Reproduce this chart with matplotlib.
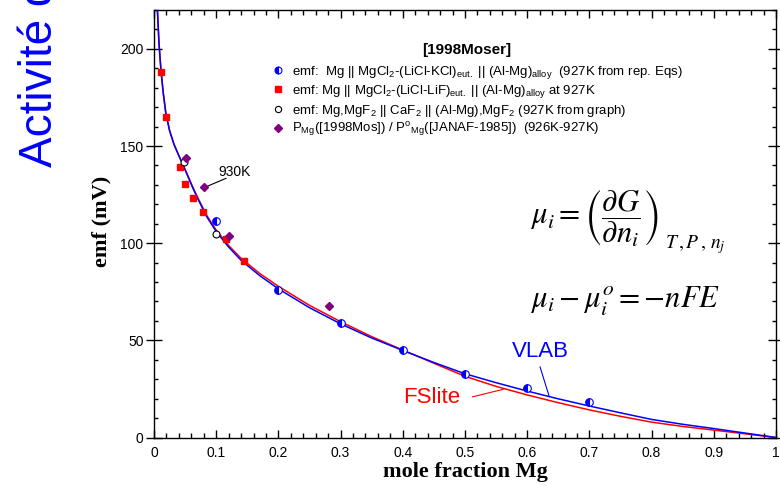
import matplotlib
matplotlib.use('Agg')
import matplotlib.pyplot as plt
import numpy as np
from matplotlib.ticker import MultipleLocator

# emf de Mg dans Al-Mg a ~927K, [1998Moser] + calculs VLAB / FSlite

rep_x = [0.1, 0.2, 0.3, 0.4, 0.5, 0.6, 0.7]
rep_emf = [111.6, 76.1, 58.8, 44.8, 32.6, 25.3, 18.2]

lif_x = [0.011, 0.019, 0.041, 0.050, 0.062, 0.078, 0.115, 0.145]
lif_emf = [188.1, 165.0, 139.1, 130.2, 123.0, 116.2, 102.1, 91.0]

caf_x = [0.048, 0.099]
caf_emf = [142.0, 104.7]

pmg_x = [0.052, 0.080, 0.120, 0.281]
pmg_emf = [143.9, 128.7, 103.9, 67.7]

calc_x = [0.0055, 0.008, 0.0113, 0.015, 0.019, 0.025, 0.032, 0.040, 0.047, 0.055,
          0.063, 0.071, 0.085, 0.10, 0.12, 0.14, 0.17, 0.20, 0.25, 0.30,
          0.35, 0.40, 0.45, 0.50, 0.55, 0.60, 0.65, 0.70, 0.75, 0.80,
          0.85, 0.90, 0.95, 1.00]
vlab_emf = [220, 203, 188.5, 177, 167, 158, 151, 145, 140, 134,
            128, 122.5, 113.5, 106, 98, 91.2, 83.3, 76.5, 66.8, 58.5,
            51.2, 44.8, 38.6, 32.8, 28.2, 23.9, 19.9, 16.2, 12.7, 9.3,
            6.8, 4.6, 2.3, 0]
fslite_emf = [220, 203, 188.5, 177, 167, 158, 151, 145, 140.2, 134.3,
              128.4, 123, 114.2, 106.7, 98.8, 92.2, 84.4, 77.8, 68.0, 59.6,
              51.9, 45.0, 38.2, 31.5, 26.3, 21.9, 17.9, 14.2, 10.9, 7.9,
              5.7, 3.8, 1.9, 0]

xticks = [0, 0.1, 0.2, 0.3, 0.4, 0.5, 0.6, 0.7, 0.8, 0.9, 1.0]
xticklabels = ['0', '0.1', '0.2', '0.3', '0.4', '0.5', '0.6', '0.7', '0.8', '0.9', '1']
yticks = [0, 50, 100, 150, 200]

plt.rcParams['font.family'] = ['Liberation Sans', 'DejaVu Sans']

W, H = 780, 486
fig = plt.figure(figsize=(W / 100, H / 100), dpi=100)
ax = fig.add_axes([154 / W, 1 - 437.5 / H, 622 / W, 427.5 / H])

ax.plot(calc_x, fslite_emf, color='#ff0000', lw=1.1, zorder=2)
ax.plot(calc_x, vlab_emf, color='#0000ff', lw=1.1, zorder=3)

ax.plot(rep_x, rep_emf, 'o', ms=5.5, mfc='#0000ff', mec='#0000ff', mfcalt='white',
        fillstyle='left', mew=0.8, zorder=4)
ax.plot(lif_x, lif_emf, 's', ms=5, color='#ff0000', mec='#ff0000', zorder=4)
ax.plot(caf_x, caf_emf, 'o', ms=5, mfc='white', mec='black', mew=0.8, zorder=4)
ax.plot(pmg_x, pmg_emf, 'D', ms=4.2, color='#7f007f', zorder=4)

ax.set_xlim(0, 1)
ax.set_ylim(0, 220)
ax.set_xticks(xticks)
ax.set_xticklabels(xticklabels)
ax.set_yticks(yticks)
ax.xaxis.set_minor_locator(MultipleLocator(0.02))
ax.yaxis.set_minor_locator(MultipleLocator(10))
ax.tick_params(axis='x', which='major', direction='in', length=5.5, width=1, top=True, labelsize=10, pad=6)
ax.tick_params(axis='x', which='minor', direction='in', length=3.5, width=1, top=True)
ax.tick_params(axis='y', which='major', direction='inout', length=11, width=1, right=True, labelsize=10, pad=2)
ax.tick_params(axis='y', which='minor', direction='in', length=3, width=1, right=True)
for s in ax.spines.values():
    s.set_linewidth(1.0)

ax.set_xlabel('mole fraction Mg', family='Liberation Serif', weight='bold', fontsize=16)
ax.xaxis.set_label_coords(0.5, -0.058)
ax.set_ylabel('emf (mV)', family='Liberation Serif', weight='bold', fontsize=16)
ax.yaxis.set_label_coords(-0.069, 0.505)

# annotations
ax.annotate('', xy=(0.082, 128.8), xytext=(0.116, 133.4),
            arrowprops=dict(arrowstyle='-', color='black', lw=0.8, shrinkA=0, shrinkB=0))
ax.text(0.129, 136.6, '930K', fontsize=10, ha='center', va='center')

ax.text(0.621, 44.2, 'VLAB', color='#0000ff', fontsize=16, ha='center', va='center')
ax.annotate('', xy=(0.6355, 21.0), xytext=(0.6206, 36.4),
            arrowprops=dict(arrowstyle='-', color='#0000ff', lw=0.8, shrinkA=0, shrinkB=0))
ax.text(0.447, 20.6, 'FSlite', color='#ff0000', fontsize=16, ha='center', va='center')
ax.annotate('', xy=(0.5614, 24.8), xytext=(0.5117, 20.9),
            arrowprops=dict(arrowstyle='-', color='#ff0000', lw=0.8, shrinkA=0, shrinkB=0))

# equations
fig.text(530 / W, 1 - 224 / H, r'$\mu_i = \left(\dfrac{\partial G}{\partial n_i}\right)$',
         fontsize=22, math_fontfamily='stix', ha='left', va='baseline')
fig.text(665 / W, 1 - 248 / H, r'$T\,,P\,,\,n_j$',
         fontsize=14, math_fontfamily='stix', ha='left', va='baseline')
fig.text(530 / W, 1 - 308 / H, r'$\mu_i - \mu_i^o = -nFE$',
         fontsize=22, math_fontfamily='stix', ha='left', va='baseline')

# legend drawn by hand
fig.text(467 / W, 1 - 50 / H, '[1998Moser]', fontsize=11, weight='bold', ha='center', va='center')
rows = [70, 89.3, 109, 127.7]
labels = [
    r'emf:  Mg || MgCl$_\mathregular{2}$-(LiCl-KCl)$_\mathregular{eut.}$ || (Al-Mg)$_\mathregular{alloy}$  (927K from rep. Eqs)',
    r'emf: Mg || MgCl$_\mathregular{2}$-(LiCl-LiF)$_\mathregular{eut.}$ || (Al-Mg)$_\mathregular{alloy}$ at 927K',
    r'emf: Mg,MgF$_\mathregular{2}$ || CaF$_\mathregular{2}$ || (Al-Mg),MgF$_\mathregular{2}$ (927K from graph)',
    r'P$_\mathregular{Mg}$([1998Mos]) / P$^\mathregular{o}$$_\mathregular{Mg}$([JANAF-1985])  (926K-927K)',
]
styles = [
    dict(marker='o', ms=5, mfc='#0000ff', mec='#0000ff', mfcalt='white', fillstyle='left', mew=0.8),
    dict(marker='s', ms=4.5, color='#ff0000'),
    dict(marker='o', ms=4.5, mfc='white', mec='black', mew=0.8),
    dict(marker='D', ms=4, color='#7f007f'),
]
for ry, lab, st in zip(rows, labels, styles):
    ax.plot([278.3 / W], [1 - ry / H], transform=fig.transFigure, clip_on=False, ls='none', **st)
    fig.text(291.7 / W, 1 - (ry + 4.6) / H, lab, fontsize=9.5, ha='left', va='baseline')

fig.text(17 / W, 1 - 167 / H, 'Activité de Mg', color='#0000ff', fontsize=33,
         rotation=90, ha='left', va='bottom')

fig.savefig('out.png', dpi=100)
